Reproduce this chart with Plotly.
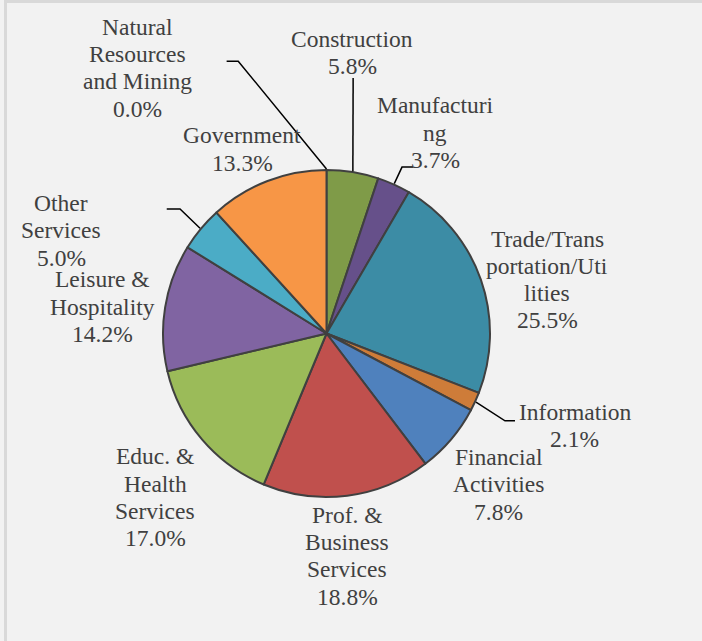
import math
import plotly.graph_objects as go

# ---------------- data ----------------
sectors = [
    "Natural<br>Resources<br>and Mining",
    "Construction",
    "Manufacturi<br>ng",
    "Trade/Trans<br>portation/Uti<br>lities",
    "Information",
    "Financial<br>Activities",
    "Prof. &<br>Business<br>Services",
    "Educ. &<br>Health<br>Services",
    "Leisure &<br>Hospitality",
    "Other<br>Services",
    "Government",
]
shares = [0.0, 5.8, 3.7, 25.5, 2.1, 7.8, 18.8, 17.0, 14.2, 5.0, 13.3]

# ---------------- style ----------------
colors = ["#4F81BD", "#7F9B48", "#66508A", "#3C8CA5", "#CE7C39", "#4F81BD",
          "#C0504D", "#9BBB59", "#8064A2", "#4BACC6", "#F79646"]
W, H = 702, 641
CX, CY, R = 326.5, 333.5, 163.5   # pie centre / radius in pixels
FONT = "Liberation Serif"
FONT_SIZE = 23.5
LINE_H = 27.3                     # label line spacing in pixels
TEXT_COLOR = "#404040"

# label placement: (distance in pie radii, angular nudge in degrees)
label_place = [
    (1.991, -35.4), (1.723, -4.0), (1.394, 4.1), (1.388, 5.6),
    (1.622, -4.2), (1.404, 0.9), (1.367, 2.05), (1.453, -3.4),
    (1.377, -2.5), (1.741, -18.6), (1.237, -3.4),
]
# leader line points relative to label centre (px); None = no leader
leaders = [
    [(100.3, -7.0), (88.7, -7.0)],
    [(1.0, 25.0)],
    [(-33.0, 34.0), (-22.0, 34.0)],
    None,
    [(-70.0, -5.3), (-60.0, -5.3)],
    None, None, None, None,
    [(119.0, -21.7), (105.7, -21.7)],
    None,
]


def px(x, y):
    return x / W, 1 - y / H


fig = go.Figure(go.Pie(
    labels=[s.replace("<br>", " ") for s in sectors],
    values=shares,
    sort=False,
    direction="clockwise",
    rotation=0,
    marker=dict(colors=colors, line=dict(color="#404040", width=2)),
    textinfo="none",
    hoverinfo="skip",
    showlegend=False,
    domain=dict(x=[(CX - R) / W, (CX + R) / W], y=[1 - (CY + R) / H, 1 - (CY - R) / H]),
))

total = sum(shares)
cum = 0.0
annotations, shapes = [], []
for i, (name, v) in enumerate(zip(sectors, shares)):
    mid = (cum + v / 2) / total * 360.0
    cum += v
    k, nudge = label_place[i]
    a = math.radians(mid + nudge)
    lx = CX + k * R * math.sin(a)
    ly = CY - k * R * math.cos(a)
    lines = name.split("<br>") + [f"{v:.1f}%"]
    n = len(lines)
    for j, line in enumerate(lines):
        x, y = px(lx, ly + (j - (n - 1) / 2) * LINE_H - 0.5)
        annotations.append(dict(
            x=x, y=y, xref="paper", yref="paper", xanchor="center", yanchor="middle",
            text=line, showarrow=False, align="center",
            font=dict(family=FONT, size=FONT_SIZE, color=TEXT_COLOR),
        ))
    if leaders[i]:
        am = math.radians(mid)
        ex, ey = CX + (R + 1) * math.sin(am), CY - (R + 1) * math.cos(am)
        pts = [px(ex, ey)] + [px(lx + dx, ly + dy) for dx, dy in leaders[i]]
        path = "M " + " L ".join(f"{p[0]:.5f},{p[1]:.5f}" for p in pts)
        shapes.append(dict(type="path", path=path, xref="paper", yref="paper",
                           line=dict(color="black", width=1.5)))

# outer chart border (top & left visible)
shapes.append(dict(type="rect", xref="paper", yref="paper",
                   x0=5.5 / W, y0=1 - 1.5 / H, x1=1.05, y1=-0.05,
                   line=dict(color="#D9D9D9", width=3), layer="below"))

fig.update_layout(
    width=W, height=H,
    margin=dict(l=0, r=0, t=0, b=0),
    paper_bgcolor="#F2F2F2",
    plot_bgcolor="#F2F2F2",
    font=dict(family=FONT, color=TEXT_COLOR),
    annotations=annotations,
    shapes=shapes,
)

fig.write_html(
    "out.html",
    config={"displayModeBar": False},
    post_script="document.body.style.margin='0';document.body.style.overflow='hidden';",
)
